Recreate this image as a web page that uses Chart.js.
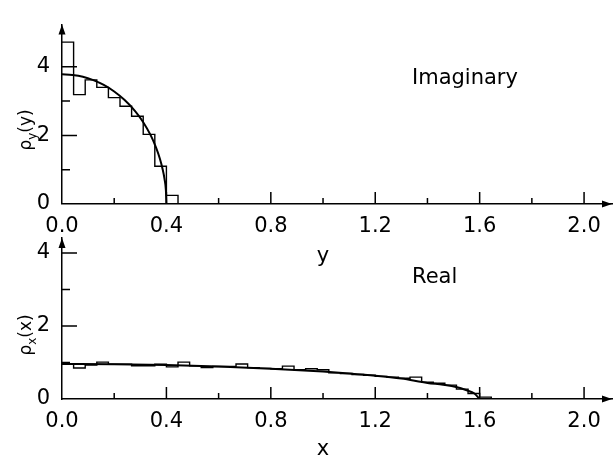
<!DOCTYPE html>
<html>
<head>
<meta charset="utf-8">
<script src="https://cdn.jsdelivr.net/npm/chart.js@4.4.1/dist/chart.umd.min.js"></script>
<style>
  html, body { margin: 0; padding: 0; background: #fff; overflow: hidden; }
  #wrap { position: relative; width: 613px; height: 456px; }
  #wrap canvas { position: absolute; left: 0; top: 0; }
</style>
</head>
<body>
<div id="wrap">
  <canvas id="imag-chart" width="613" height="456"></canvas>
  <canvas id="real-chart" width="613" height="456"></canvas>
</div>
<script>
/* ── Data ───────────────────────────────────────────────────────────────── */

var binWidth = 0.4 / 9;   // histogram bin width, both panels

// Imaginary part: histogram heights per bin and the smooth curve
var imagHist   = [4.72, 3.19, 3.62, 3.40, 3.10, 2.85, 2.56, 2.03, 1.10, 0.25];
var imagCurveX = [0, 0.04, 0.08, 0.12, 0.16, 0.20, 0.24, 0.28, 0.31, 0.34, 0.36, 0.375, 0.385, 0.393, 0.398, 0.40];
var imagCurveY = [3.78, 3.76, 3.71, 3.61, 3.47, 3.28, 3.03, 2.71, 2.40, 2.00, 1.65, 1.32, 1.03, 0.72, 0.40, 0];

// Real part
var realHist = [0.97, 0.85, 0.93, 1.01, 0.95, 0.95, 0.91, 0.91, 0.95, 0.88,
                1.01, 0.91, 0.86, 0.89, 0.89, 0.96, 0.86, 0.84, 0.83, 0.90,
                0.80, 0.83, 0.80, 0.72, 0.70, 0.67, 0.65, 0.62, 0.60, 0.57,
                0.60, 0.46, 0.43, 0.38, 0.27, 0.15, 0.05];
var realCurveX = [0, 0.2, 0.4, 0.6, 0.8, 1.0, 1.1, 1.2, 1.3, 1.4, 1.46, 1.51, 1.55, 1.58, 1.6];
var realCurveY = [0.96, 0.95, 0.93, 0.89, 0.83, 0.75, 0.70, 0.64, 0.56, 0.44, 0.39, 0.33, 0.24, 0.15, 0];

// Axis ticks
var xMajorTicks = [0.4, 0.8, 1.2, 1.6, 2.0];
var xMinorTicks = [0.2, 0.6, 1.0, 1.4, 1.8];
var yMajorTicks = [2, 4];
var yMinorTicks = [1, 3];

/* ── Helpers ────────────────────────────────────────────────────────────── */

var FONT = 'DejaVu Sans';

function stepPoints(values) {
  var pts = values.map(function (v, i) { return { x: i * binWidth, y: v }; });
  pts.push({ x: values.length * binWidth, y: 0 });
  return pts;
}

function curvePoints(xs, ys) {
  return xs.map(function (x, i) { return { x: x, y: ys[i] }; });
}

// ρ with a subscript, rotated to read bottom-to-top
function drawRhoLabel(ctx, baseX, midY, sub, arg) {
  ctx.save();
  ctx.translate(baseX, midY);
  ctx.rotate(-Math.PI / 2);
  ctx.textBaseline = 'alphabetic';
  ctx.textAlign = 'left';
  var big = '17px "' + FONT + '"', small = '12px "' + FONT + '"';
  ctx.font = big;  var w1 = ctx.measureText('\u03C1').width;
  ctx.font = small; var w2 = ctx.measureText(sub).width;
  ctx.font = big;  var w3 = ctx.measureText(arg).width;
  var x0 = -(w1 + w2 + w3) / 2;
  ctx.font = big;   ctx.fillText('\u03C1', x0, 0);
  ctx.font = small; ctx.fillText(sub, x0 + w1, 5);
  ctx.font = big;   ctx.fillText(arg, x0 + w1 + w2, 0);
  ctx.restore();
}

/* ── Axis decoration plugin: inward ticks, arrows, titles ───────────────── */

function decorPlugin(cfg) {
  return {
    id: 'decor',
    afterDraw: function (chart) {
      var ctx = chart.ctx, xs = chart.scales.x, ys = chart.scales.y, a = chart.chartArea;
      ctx.save();
      ctx.strokeStyle = '#000';
      ctx.fillStyle = '#000';
      ctx.lineWidth = 1.5;

      ctx.beginPath();
      xMajorTicks.forEach(function (v) {
        var px = xs.getPixelForValue(v);
        ctx.moveTo(px, a.bottom); ctx.lineTo(px, a.bottom - 12);
      });
      xMinorTicks.forEach(function (v) {
        var px = xs.getPixelForValue(v);
        ctx.moveTo(px, a.bottom); ctx.lineTo(px, a.bottom - 6);
      });
      yMajorTicks.forEach(function (v) {
        var py = ys.getPixelForValue(v);
        ctx.moveTo(a.left, py); ctx.lineTo(a.left + 15, py);
      });
      yMinorTicks.forEach(function (v) {
        var py = ys.getPixelForValue(v);
        ctx.moveTo(a.left, py); ctx.lineTo(a.left + 8, py);
      });
      ctx.stroke();

      // arrow heads
      ctx.beginPath();
      ctx.moveTo(a.right, a.bottom);
      ctx.lineTo(a.right - 10, a.bottom - 3.5);
      ctx.lineTo(a.right - 10, a.bottom + 3.5);
      ctx.closePath();
      ctx.moveTo(a.left, a.top);
      ctx.lineTo(a.left - 3.5, a.top + 10);
      ctx.lineTo(a.left + 3.5, a.top + 10);
      ctx.closePath();
      ctx.fill();

      // titles
      ctx.font = '21px "' + FONT + '"';
      ctx.textBaseline = 'alphabetic';
      ctx.textAlign = 'center';
      ctx.fillText(cfg.xTitle, xs.getPixelForValue(1.0), cfg.xTitleY);
      ctx.textAlign = 'left';
      ctx.fillText(cfg.label, 412, cfg.labelY);

      drawRhoLabel(ctx, 31, cfg.yTitleMid, cfg.ySub, cfg.yArg);
      ctx.restore();
    }
  };
}

/* ── Chart factory ──────────────────────────────────────────────────────── */

function makePanel(canvasId, cfg) {
  var tickFont = { family: FONT, size: 21 };
  return new Chart(document.getElementById(canvasId), {
    type: 'line',
    data: {
      datasets: [{
        data: stepPoints(cfg.hist),
        stepped: true,
        borderColor: '#000',
        borderWidth: 1.4,
        pointRadius: 0,
        fill: false,
      }, {
        data: curvePoints(cfg.curveX, cfg.curveY),
        borderColor: '#000',
        borderWidth: 2,
        pointRadius: 0,
        cubicInterpolationMode: 'monotone',
        fill: false,
      }],
    },
    options: {
      responsive: false,
      animation: false,
      events: [],
      layout: { padding: cfg.padding },
      plugins: { legend: { display: false }, tooltip: { enabled: false } },
      scales: {
        x: {
          type: 'linear',
          min: 0,
          max: 2.107,
          border: { color: '#000', width: 1.5 },
          grid: { display: false, drawTicks: false },
          ticks: {
            stepSize: 0.4,
            includeBounds: false,
            autoSkip: false,
            maxRotation: 0,
            padding: 10,
            color: '#000',
            font: tickFont,
            callback: function (v) { return Number(v).toFixed(1); },
          },
          afterFit: function (s) { s.height = 30; },
        },
        y: {
          type: 'linear',
          min: 0,
          max: cfg.yMax,
          border: { color: '#000', width: 1.5 },
          grid: { display: false, drawTicks: false },
          ticks: {
            stepSize: 2,
            includeBounds: false,
            padding: 12,
            color: '#000',
            font: tickFont,
          },
          afterFit: function (s) { s.width = 62; },
        },
      },
    },
    plugins: [decorPlugin(cfg)],
  });
}

makePanel('imag-chart', {
  hist: imagHist, curveX: imagCurveX, curveY: imagCurveY,
  yMax: 5.23,
  padding: { top: 13, left: 0, right: 1, bottom: 222 },
  xTitle: 'y', xTitleY: 262,
  label: 'Imaginary', labelY: 84,
  ySub: 'y', yArg: '(y)', yTitleMid: 130,
});

makePanel('real-chart', {
  hist: realHist, curveX: realCurveX, curveY: realCurveY,
  yMax: 4.41,
  padding: { top: 238, left: 0, right: 1, bottom: 27 },
  xTitle: 'x', xTitleY: 455,
  label: 'Real', labelY: 283,
  ySub: 'x', yArg: '(x)', yTitleMid: 335,
});
</script>
</body>
</html>
